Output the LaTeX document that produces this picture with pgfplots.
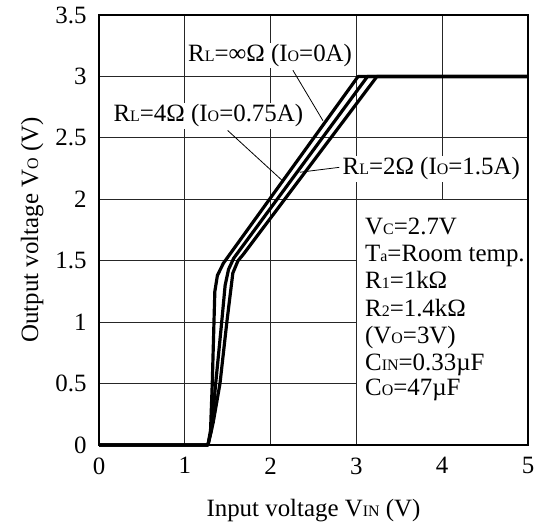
\documentclass[border=0pt]{standalone}
\usepackage{fontspec}
\setmainfont{Liberation Serif}
\usepackage{pgfplots}
\pgfplotsset{compat=1.18}
\newcommand\sub[1]{{\fontsize{16}{16}\selectfont #1}}
\begin{document}
\begin{tikzpicture}[font=\fontsize{25}{29}\selectfont]
\begin{axis}[
  scale only axis, width=429bp, height=430bp,
  xmin=0, xmax=5, ymin=0, ymax=3.5,
  xtick={0,1,2,3,4,5}, ytick={0,0.5,1,1.5,2,2.5,3,3.5},
  major tick length=0pt,
  grid=major,
  major grid style={black!85, line width=0.8pt},
  axis line style={black, line width=2.2pt},
  /pgf/number format/assume math mode=true,
  yticklabel style={xshift=-9bp},
  xticklabel style={yshift=-9bp},
  xlabel={Input voltage V\sub{IN} (V)},
  ylabel={Output voltage V\sub{O} (V)},
  xlabel style={at={(axis description cs:0.5,-0.167)}, anchor=base},
  ylabel style={at={(axis description cs:-0.142,0.5)}, anchor=base},
  clip=false,
]
% white conditions box
\filldraw[fill=white, draw=black!85, line width=0.8pt] (axis cs:3,0) rectangle (axis cs:5,2);
\draw[black, line width=2.2pt] (rel axis cs:0,0) rectangle (rel axis cs:1,1);

\addplot[black, line width=3.2pt, line join=round] coordinates {
 (0,0) (1.27,0) (1.30,0.12) (1.32,0.5) (1.34,1.0) (1.35,1.25) (1.38,1.38) (1.45,1.48) (3.02,3.0) (5,3.0)};
\addplot[black, line width=3.2pt, line join=round] coordinates {
 (0,0) (1.27,0) (1.31,0.12) (1.36,0.5) (1.43,1.0) (1.47,1.30) (1.51,1.43) (1.57,1.52) (3.13,3.0) (5,3.0)};
\addplot[black, line width=3.2pt, line join=round] coordinates {
 (0,0) (1.27,0) (1.33,0.18) (1.41,0.5) (1.49,1.0) (1.56,1.40) (1.62,1.50) (1.68,1.55) (3.24,3.0) (5,3.0)};

% leader lines
\draw[black, line width=0.8pt] (axis cs:2.26,3.05) -- (axis cs:2.61,2.64);
\draw[black, line width=0.8pt] (axis cs:1.50,2.56) -- (axis cs:2.14,2.15);
\draw[black, line width=0.8pt] (axis cs:2.34,2.22) -- (axis cs:2.80,2.26);

% curve labels
\node[anchor=base west, fill=white, inner sep=1.5pt] at (axis cs:1.02,3.12) {R\sub{L}=∞Ω\ (I\sub{O}=0A)};
\node[anchor=base west, fill=white, inner sep=1.5pt] at (axis cs:0.15,2.63) {R\sub{L}=4Ω\ (I\sub{O}=0.75A)};
\node[anchor=base west, fill=white, inner sep=1.5pt] at (axis cs:2.82,2.20) {R\sub{L}=2Ω\ (I\sub{O}=1.5A)};

% conditions
\node[anchor=base west, inner sep=0pt] at (axis cs:3.10,1.71) {V\sub{C}=2.7V};
\node[anchor=base west, inner sep=0pt] at (axis cs:3.10,1.49) {T\sub{a}=Room temp.};
\node[anchor=base west, inner sep=0pt] at (axis cs:3.10,1.27) {R\sub{1}=1kΩ};
\node[anchor=base west, inner sep=0pt] at (axis cs:3.10,1.05) {R\sub{2}=1.4kΩ};
\node[anchor=base west, inner sep=0pt] at (axis cs:3.10,0.83) {(V\sub{O}=3V)};
\node[anchor=base west, inner sep=0pt] at (axis cs:3.10,0.61) {C\sub{IN}=0.33µF};
\node[anchor=base west, inner sep=0pt] at (axis cs:3.10,0.40) {C\sub{O}=47µF};
\end{axis}
\pgfresetboundingbox
\path ([shift={(-99bp,-78bp)}]current axis.south west) rectangle ([shift={(15bp,15bp)}]current axis.north east);
\end{tikzpicture}
\end{document}
